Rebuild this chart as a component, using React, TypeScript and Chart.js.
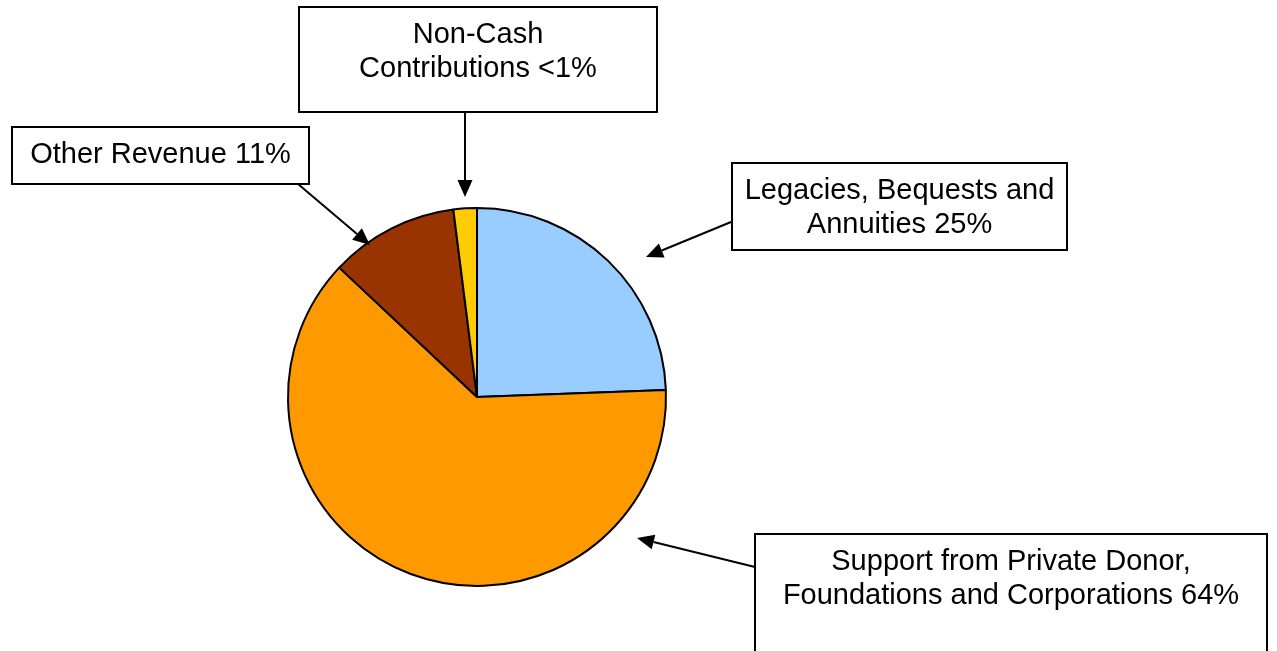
import React, { useEffect, useRef } from "react";
import { Chart, registerables } from "chart.js";

Chart.register(...registerables);

// ---- data ----
const categories = [
  "Legacies, Bequests and Annuities",
  "Support from Private Donor, Foundations and Corporations",
  "Other Revenue",
  "Non-Cash Contributions",
];
const shares = [24.4, 62.6, 11.0, 2.0];
const calloutTexts = [
  ["Legacies, Bequests and", "Annuities 25%"],
  ["Support from Private Donor,", "Foundations and Corporations 64%"],
  ["Other Revenue 11%"],
  ["Non-Cash", "Contributions <1%"],
];
const sliceColors = ["#99CCFF", "#FF9900", "#993300", "#FFCC00"];

// ---- callout layout (decoration, in canvas pixels) ----
const calloutLayout = [
  { box: [732, 163, 335, 87], from: [731, 222], to: [646, 257] },
  { box: [755, 534, 512, 140], from: [755, 567], to: [637, 538] },
  { box: [12, 127, 297, 57], from: [298, 184], to: [370, 245] },
  { box: [299, 7, 358, 105], from: [465, 112], to: [465, 197] },
];

const FONT = '29px "Liberation Sans", Arial, sans-serif';

function drawArrow(ctx: CanvasRenderingContext2D, from: number[], to: number[]) {
  const [x1, y1] = from;
  const [x2, y2] = to;
  const ang = Math.atan2(y2 - y1, x2 - x1);
  const headLen = 17;
  const headHalf = 7.5;
  const bx = x2 - headLen * Math.cos(ang);
  const by = y2 - headLen * Math.sin(ang);
  ctx.save();
  ctx.strokeStyle = "#000";
  ctx.fillStyle = "#000";
  ctx.lineWidth = 2;
  ctx.beginPath();
  ctx.moveTo(x1, y1);
  ctx.lineTo(bx, by);
  ctx.stroke();
  ctx.beginPath();
  ctx.moveTo(x2, y2);
  ctx.lineTo(bx + headHalf * Math.sin(ang), by - headHalf * Math.cos(ang));
  ctx.lineTo(bx - headHalf * Math.sin(ang), by + headHalf * Math.cos(ang));
  ctx.closePath();
  ctx.fill();
  ctx.restore();
}

const calloutPlugin = {
  id: "callouts",
  afterDraw(chart: any) {
    const ctx: CanvasRenderingContext2D = chart.ctx;
    calloutLayout.forEach((c, i) => {
      const [x, y, w, h] = c.box;
      ctx.save();
      ctx.fillStyle = "#fff";
      ctx.fillRect(x, y, w, h);
      ctx.strokeStyle = "#000";
      ctx.lineWidth = 2;
      ctx.strokeRect(x, y, w, h);
      ctx.fillStyle = "#000";
      ctx.font = FONT;
      ctx.textAlign = "center";
      ctx.textBaseline = "alphabetic";
      const lines = calloutTexts[i];
      lines.forEach((t, k) => {
        ctx.fillText(t, x + w / 2, y + 36 + k * 33.5);
      });
      ctx.restore();
      drawArrow(ctx, c.from, c.to);
    });
  },
};

export default function App() {
  const ref = useRef<HTMLCanvasElement | null>(null);
  useEffect(() => {
    if (!ref.current) return;
    const chart = new Chart(ref.current, {
      type: "pie",
      data: {
        labels: categories,
        datasets: [
          {
            data: shares,
            backgroundColor: sliceColors,
            borderColor: "#000",
            borderWidth: 2,
          },
        ],
      },
      options: {
        responsive: false,
        animation: false,
        devicePixelRatio: 1,
        layout: { padding: { left: 287, top: 207, right: 610, bottom: 64 } },
        plugins: {
          legend: { display: false },
          tooltip: { enabled: false },
          title: { display: false },
        },
      },
      plugins: [calloutPlugin],
    });
    return () => chart.destroy();
  }, []);
  return (
    <div style={{ position: "fixed", left: 0, top: 0, width: 1277, height: 651, background: "#fff" }}>
      <canvas ref={ref} width={1277} height={651} style={{ display: "block" }} />
    </div>
  );
}
